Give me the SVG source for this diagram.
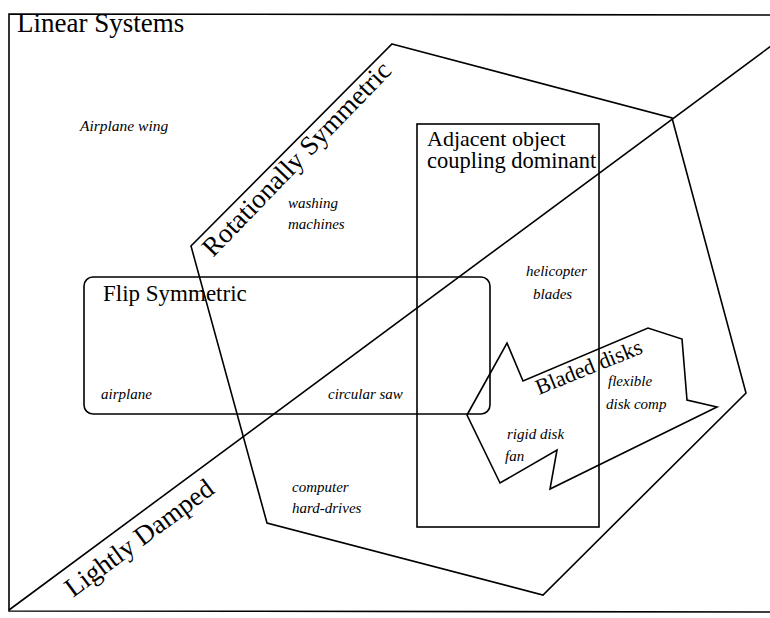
<svg xmlns="http://www.w3.org/2000/svg" width="770" height="618" viewBox="0 0 770 618">
<style>
.s{fill:none;stroke:#000;stroke-width:1.6;stroke-linejoin:miter}
.h{font-family:"Liberation Serif","Times New Roman",serif;font-size:22px;fill:#000}
.i{font-family:"Liberation Serif","Times New Roman",serif;font-style:italic;font-size:15px;fill:#000}
</style>
<rect width="770" height="618" fill="#fff"/>
<g id="linear-systems">
<polyline class="s" points="775,15 9,14 9,611 775,612"/>
<text class="h" x="17" y="32" style="font-size:27px">Linear Systems</text>
<text class="i" x="80" y="131" style="font-size:15.5px">Airplane wing</text>
</g>
<g id="lightly-damped">
<line class="s" x1="9" y1="610" x2="775" y2="43"/>
<text class="h" transform="translate(73,598) rotate(-36.5)" style="font-size:27px">Lightly Damped</text>
</g>
<g id="rotationally-symmetric">
<polygon class="s" points="392,44 672,118 746,393 543,595 267,523 191,246"/>
<text class="h" transform="translate(213,258) rotate(-46)" style="font-size:27px">Rotationally Symmetric</text>
<text class="i" x="288" y="208">washing</text>
<text class="i" x="288" y="229">machines</text>
<text class="i" x="292" y="492">computer</text>
<text class="i" x="292" y="513">hard-drives</text>
</g>
<g id="adjacent-object">
<rect class="s" x="417" y="124" width="182" height="403"/>
<text class="h" x="427" y="146">Adjacent object</text>
<text class="h" x="427" y="168" style="font-size:22.5px">coupling dominant</text>
<text class="i" x="526" y="276">helicopter</text>
<text class="i" x="533" y="299">blades</text>
</g>
<g id="flip-symmetric">
<rect class="s" x="84" y="277" width="406" height="137" rx="9" ry="9"/>
<text class="h" x="103" y="301" style="font-size:23px">Flip Symmetric</text>
<text class="i" x="101" y="399">airplane</text>
<text class="i" x="328" y="399">circular saw</text>
</g>
<g id="bladed-disks">
<polygon class="s" points="467,415 507,343 523,381 648,328 682,339 687,400 717,407 550,489 557,450 500,483"/>
<text class="h" transform="translate(539,395) rotate(-22)">Bladed disks</text>
<text class="i" x="608" y="386">flexible</text>
<text class="i" x="606" y="409">disk comp</text>
<text class="i" x="507" y="439">rigid disk</text>
<text class="i" x="505" y="461">fan</text>
</g>
<g id="connectors"></g>
</svg>
